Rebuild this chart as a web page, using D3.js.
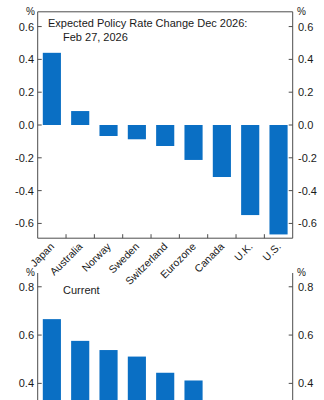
<!DOCTYPE html>
<html>
<head>
<meta charset="utf-8">
<script src="https://cdn.jsdelivr.net/npm/d3@7"></script>
<style>
  html, body { margin: 0; padding: 0; background: #fff; }
  svg { display: block; }
  text { font-family: "Liberation Sans", Arial, sans-serif; fill: #1a1a1a; }
</style>
</head>
<body>
<script>
// Countries, in the order they appear on both panels
const countries = ["Japan", "Australia", "Norway", "Sweden", "Switzerland",
                   "Eurozone", "Canada", "U.K.", "U.S."];

// Expected policy rate change by Dec 2026, %
const expectedChange = [0.44, 0.085, -0.067, -0.087, -0.128, -0.213, -0.317, -0.549, -0.667];

// Current panel, %
const currentValues = [0.666, 0.576, 0.538, 0.511, 0.444, 0.412, 0.30, 0.25, 0.20];

// Tick labels
const topTicks = [-0.6, -0.4, -0.2, 0.0, 0.2, 0.4, 0.6];
const bottomTicks = [0.4, 0.6, 0.8];

const W = 324, H = 400;
const BAR = "#0a6fc4";
const AXIS = "#4d4d4d";
const LEFT = 37.7, RIGHT = 292.7;

const svg = d3.select("body").append("svg")
    .attr("width", W)
    .attr("height", H);

const x = d3.scaleBand()
    .domain(countries)
    .range([LEFT, RIGHT])
    .paddingInner(0.36)
    .paddingOuter(0.18);

function drawPanel(opts)
{
  const y = d3.scaleLinear().domain(opts.domain).range(opts.range);
  const top = opts.range[1], bottom = opts.range[0];
  const g = svg.append("g");

  // bars, drawn from zero
  g.selectAll("rect.bar")
      .data(opts.values)
      .enter()
      .append("rect")
        .attr("class", "bar")
        .attr("x", (d, i) => x(countries[i]))
        .attr("width", x.bandwidth())
        .attr("y", d => Math.min(y(d), y(0)))
        .attr("height", d => Math.abs(y(d) - y(0)))
        .attr("fill", BAR);

  // frame
  const frame = g.append("g")
      .attr("stroke", AXIS)
      .attr("stroke-width", 1)
      .attr("fill", "none");
  frame.append("line").attr("x1", LEFT).attr("x2", LEFT).attr("y1", top).attr("y2", bottom);
  frame.append("line").attr("x1", RIGHT).attr("x2", RIGHT).attr("y1", top).attr("y2", bottom);
  if (opts.topLine)
  {
    frame.append("line").attr("x1", LEFT).attr("x2", RIGHT).attr("y1", top).attr("y2", top);
  }
  if (opts.xAxis)
  {
    frame.append("line").attr("x1", LEFT).attr("x2", RIGHT).attr("y1", bottom).attr("y2", bottom);
  }

  // y ticks, pointing inward on both sides
  opts.ticks.forEach(t =>
  {
    frame.append("line").attr("x1", LEFT).attr("x2", LEFT + 4)
        .attr("y1", y(t)).attr("y2", y(t));
    frame.append("line").attr("x1", RIGHT - 4).attr("x2", RIGHT)
        .attr("y1", y(t)).attr("y2", y(t));
  });

  const fmt = d3.format(".1f");
  g.selectAll("text.yl")
      .data(opts.ticks)
      .enter()
      .append("text")
        .attr("class", "yl")
        .attr("x", 34)
        .attr("y", d => y(d))
        .attr("dy", "0.36em")
        .attr("text-anchor", "end")
        .attr("font-size", 11)
        .text(d => fmt(d).replace("−", "-"));
  g.selectAll("text.yr")
      .data(opts.ticks)
      .enter()
      .append("text")
        .attr("class", "yr")
        .attr("x", 298)
        .attr("y", d => y(d))
        .attr("dy", "0.36em")
        .attr("text-anchor", "start")
        .attr("font-size", 11)
        .text(d => fmt(d).replace("−", "-"));

  // unit labels
  g.append("text").attr("x", 35).attr("y", opts.unitY)
      .attr("text-anchor", "end").attr("font-size", 10).text("%");
  g.append("text").attr("x", 297).attr("y", opts.unitY)
      .attr("text-anchor", "start").attr("font-size", 10).text("%");

  // panel title
  opts.title.forEach((line, i) =>
  {
    g.append("text")
        .attr("x", line.x)
        .attr("y", line.y)
        .attr("font-size", 11)
        .text(line.text);
  });

  if (opts.xAxis)
  {
    // category boundary ticks
    const step = x.step();
    countries.slice(1).forEach((c, i) =>
    {
      const xb = x(c) - (step - x.bandwidth()) / 2;
      frame.append("line").attr("x1", xb).attr("x2", xb)
          .attr("y1", bottom).attr("y2", bottom - 4);
    });

    g.selectAll("text.xl")
        .data(countries)
        .enter()
        .append("text")
          .attr("class", "xl")
          .attr("text-anchor", "end")
          .attr("font-size", 10.5)
          .attr("transform", d =>
              "translate(" + (x(d) + x.bandwidth() / 2 + 3) + "," + (bottom + 9) + ") rotate(-45)")
          .text(d => d);
  }

  return y;
}

drawPanel({
  values: expectedChange,
  domain: [-0.69, 0.69],
  range: [238.2, 11.8],
  ticks: topTicks,
  topLine: true,
  xAxis: true,
  unitY: 15,
  title: [
    { text: "Expected Policy Rate Change Dec 2026:", x: 48, y: 27.3 },
    { text: "Feb 27, 2026", x: 63, y: 40.5 }
  ]
});

drawPanel({
  values: currentValues,
  domain: [0, 0.857],
  range: [480, 273],
  ticks: bottomTicks,
  topLine: false,
  xAxis: false,
  unitY: 276,
  title: [
    { text: "Current", x: 63, y: 294 }
  ]
});
</script>
</body>
</html>
